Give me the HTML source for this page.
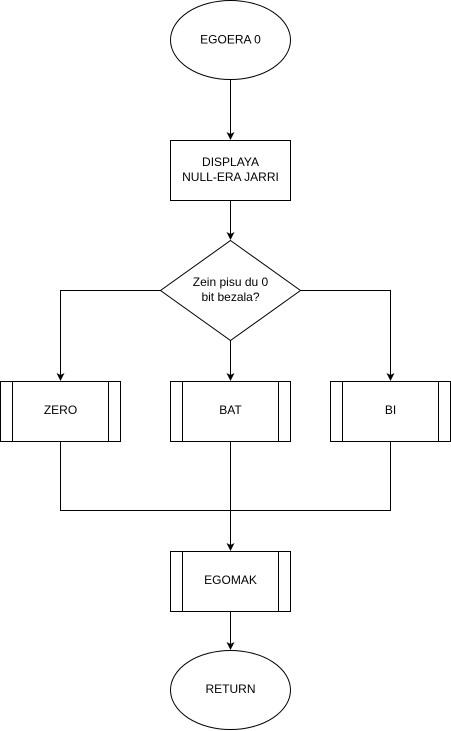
<!DOCTYPE html>
<html><head><meta charset="utf-8"><style>html,body{margin:0;padding:0;background:#fff}svg{display:block}</style></head>
<body>
<svg width="451" height="731" viewBox="0 0 451 731" xmlns="http://www.w3.org/2000/svg">
<g fill="none" stroke="#000" stroke-width="1">
<ellipse cx="230.5" cy="40" rx="60" ry="39.5" fill="#fff"/>
<rect x="170.5" y="140.5" width="120" height="60" fill="#fff"/>
<path d="M230.5 240.5 L300.5 290.5 L230.5 340.5 L160.5 290.5 Z" fill="#fff"/>
<rect x="0.5" y="381.5" width="120" height="60"/><path d="M12.5 381.5V441.5M108.5 381.5V441.5"/>
<rect x="170.5" y="381.5" width="120" height="60"/><path d="M182.5 381.5V441.5M278.5 381.5V441.5"/>
<rect x="330.5" y="381.5" width="120" height="60"/><path d="M342.5 381.5V441.5M438.5 381.5V441.5"/>
<rect x="170.5" y="551.5" width="120" height="60"/><path d="M182.5 551.5V611.5M278.5 551.5V611.5"/>
<ellipse cx="230.5" cy="690" rx="60" ry="39.5"/>
<path d="M230.5 80V134"/>
<path d="M230.5 201V234"/>
<path d="M160.5 290.5H60.5V375"/>
<path d="M300.5 290.5H390.5V375"/>
<path d="M230.5 340.5V375"/>
<path d="M60.5 441.5V510.5H390.5V441.5"/>
<path d="M230.5 441.5V545"/>
<path d="M230.5 611.5V644"/>
</g>
<g fill="#000">
<path d="M226.5 132 L230.5 140 L234.5 132 L230.5 134 Z"/>
<path d="M226.5 232 L230.5 240 L234.5 232 L230.5 234 Z"/>
<path d="M56.5 373 L60.5 381 L64.5 373 L60.5 375 Z"/>
<path d="M226.5 373 L230.5 381 L234.5 373 L230.5 375 Z"/>
<path d="M386.5 373 L390.5 381 L394.5 373 L390.5 375 Z"/>
<path d="M226.5 543 L230.5 551 L234.5 543 L230.5 545 Z"/>
<path d="M226.5 642 L230.5 650 L234.5 642 L230.5 644 Z"/>
</g>
<g font-family="Liberation Sans, sans-serif" font-size="12" text-anchor="middle" fill="#000">
<text x="230.5" y="43.5">EGOERA 0</text>
<text x="230.5" y="166">DISPLAYA</text>
<text x="230.5" y="181">NULL-ERA JARRI</text>
<text x="230.5" y="286">Zein pisu du 0</text>
<text x="230.5" y="301">bit bezala?</text>
<text x="60.5" y="414">ZERO</text>
<text x="230.5" y="414">BAT</text>
<text x="390.5" y="414">BI</text>
<text x="230.5" y="584">EGOMAK</text>
<text x="230.5" y="693">RETURN</text>
</g>
</svg>
</body></html>
